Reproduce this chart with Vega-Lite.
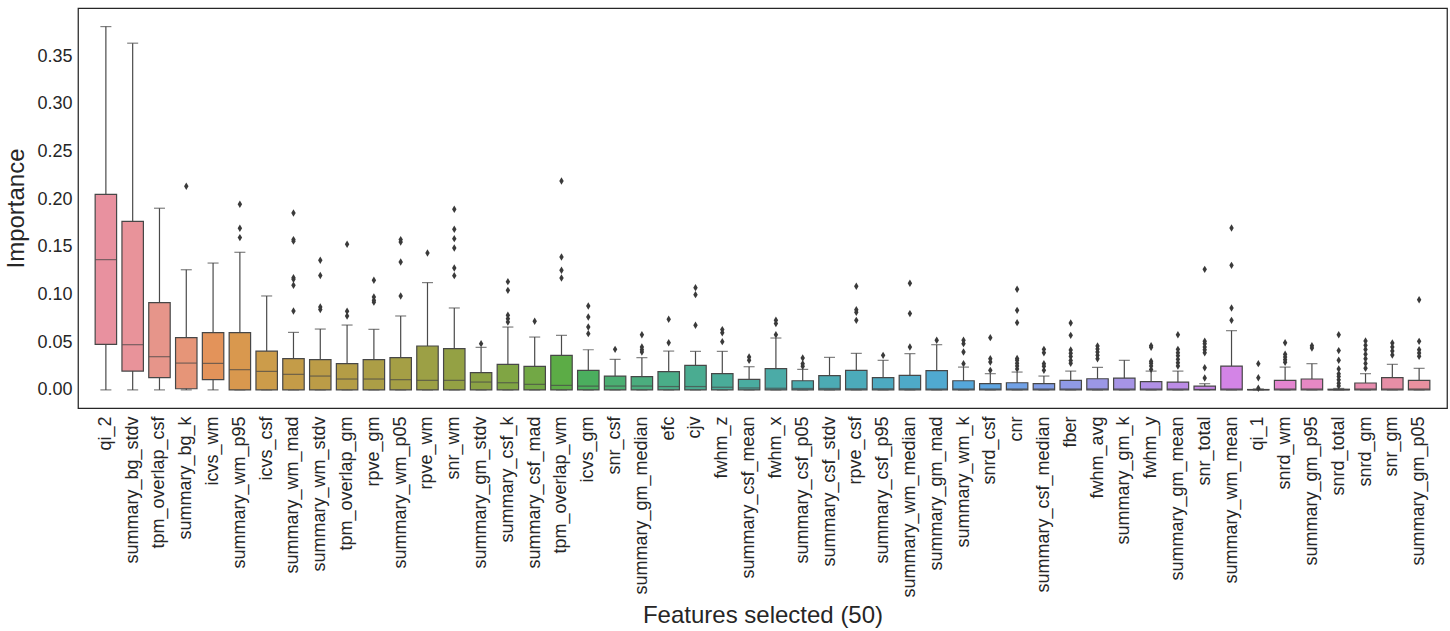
{
  "$schema": "https://vega.github.io/schema/vega-lite/v6.json",
  "width": 1369,
  "height": 400,
  "autosize": {"type": "none"},
  "padding": {"left": 78, "top": 8, "right": 3, "bottom": 223},
  "background": "white",
  "config": {
    "font": "Liberation Sans",
    "view": {"stroke": "#262626", "strokeWidth": 1.25}
  },
  "datasets": {
    "boxes": [
      {"feature": "qi_2", "lo": 0, "q1": 0.0477, "med": 0.1366, "q3": 0.205, "hi": 0.381},
      {"feature": "summary_bg_stdv", "lo": 0, "q1": 0.0197, "med": 0.0474, "q3": 0.1768, "hi": 0.3636},
      {"feature": "tpm_overlap_csf", "lo": 0, "q1": 0.0128, "med": 0.0348, "q3": 0.0915, "hi": 0.1905},
      {"feature": "summary_bg_k", "lo": 0, "q1": 0.0012, "med": 0.0281, "q3": 0.0548, "hi": 0.126},
      {"feature": "icvs_wm", "lo": 0, "q1": 0.0107, "med": 0.0278, "q3": 0.06, "hi": 0.133},
      {"feature": "summary_wm_p95", "lo": 0, "q1": 0, "med": 0.0212, "q3": 0.06, "hi": 0.1443},
      {"feature": "icvs_csf", "lo": 0, "q1": 0, "med": 0.0194, "q3": 0.0407, "hi": 0.0985},
      {"feature": "summary_wm_mad", "lo": 0, "q1": 0, "med": 0.0163, "q3": 0.0327, "hi": 0.0603},
      {"feature": "summary_wm_stdv", "lo": 0, "q1": 0, "med": 0.0145, "q3": 0.0317, "hi": 0.0638},
      {"feature": "tpm_overlap_gm", "lo": 0, "q1": 0, "med": 0.0114, "q3": 0.0275, "hi": 0.068},
      {"feature": "rpve_gm", "lo": 0, "q1": 0, "med": 0.0114, "q3": 0.0317, "hi": 0.0635},
      {"feature": "summary_wm_p05", "lo": 0, "q1": 0, "med": 0.0107, "q3": 0.0338, "hi": 0.0775},
      {"feature": "rpve_wm", "lo": 0, "q1": 0, "med": 0.01, "q3": 0.046, "hi": 0.1125},
      {"feature": "snr_wm", "lo": 0, "q1": 0, "med": 0.01, "q3": 0.0432, "hi": 0.0859},
      {"feature": "summary_gm_stdv", "lo": 0, "q1": 0, "med": 0.0082, "q3": 0.018, "hi": 0.0446},
      {"feature": "summary_csf_k", "lo": 0, "q1": 0, "med": 0.0075, "q3": 0.0268, "hi": 0.0659},
      {"feature": "summary_csf_mad", "lo": 0, "q1": 0, "med": 0.0058, "q3": 0.0247, "hi": 0.0554},
      {"feature": "tpm_overlap_wm", "lo": 0, "q1": 0, "med": 0.0047, "q3": 0.0362, "hi": 0.0572},
      {"feature": "icvs_gm", "lo": 0, "q1": 0, "med": 0.004, "q3": 0.0205, "hi": 0.0421},
      {"feature": "snr_csf", "lo": 0, "q1": 0, "med": 0.004, "q3": 0.0145, "hi": 0.032},
      {"feature": "summary_gm_median", "lo": 0, "q1": 0, "med": 0.004, "q3": 0.0138, "hi": 0.0338},
      {"feature": "efc", "lo": 0, "q1": 0, "med": 0.0035, "q3": 0.0191, "hi": 0.0407},
      {"feature": "cjv", "lo": 0, "q1": 0, "med": 0.0035, "q3": 0.0257, "hi": 0.0404},
      {"feature": "fwhm_z", "lo": 0, "q1": 0, "med": 0.0028, "q3": 0.017, "hi": 0.0404},
      {"feature": "summary_csf_mean", "lo": 0, "q1": 0, "med": 0.002, "q3": 0.011, "hi": 0.0243},
      {"feature": "fwhm_x", "lo": 0, "q1": 0, "med": 0.0017, "q3": 0.0222, "hi": 0.0544},
      {"feature": "summary_csf_p05", "lo": 0, "q1": 0, "med": 0.0015, "q3": 0.0096, "hi": 0.0215},
      {"feature": "summary_csf_stdv", "lo": 0, "q1": 0, "med": 0.0015, "q3": 0.0149, "hi": 0.0341},
      {"feature": "rpve_csf", "lo": 0, "q1": 0, "med": 0.0012, "q3": 0.0205, "hi": 0.0383},
      {"feature": "summary_csf_p95", "lo": 0, "q1": 0, "med": 0.0012, "q3": 0.0128, "hi": 0.031},
      {"feature": "summary_wm_median", "lo": 0, "q1": 0, "med": 0.0012, "q3": 0.0152, "hi": 0.038},
      {"feature": "summary_gm_mad", "lo": 0, "q1": 0, "med": 0.001, "q3": 0.0201, "hi": 0.0474},
      {"feature": "summary_wm_k", "lo": 0, "q1": 0, "med": 0.001, "q3": 0.0096, "hi": 0.0239},
      {"feature": "snrd_csf", "lo": 0, "q1": 0, "med": 0.001, "q3": 0.0065, "hi": 0.017},
      {"feature": "cnr", "lo": 0, "q1": 0, "med": 0.001, "q3": 0.0075, "hi": 0.0187},
      {"feature": "summary_csf_median", "lo": 0, "q1": 0, "med": 0.001, "q3": 0.0065, "hi": 0.0145},
      {"feature": "fber", "lo": 0, "q1": 0, "med": 0.001, "q3": 0.01, "hi": 0.0197},
      {"feature": "fwhm_avg", "lo": 0, "q1": 0, "med": 0.001, "q3": 0.0117, "hi": 0.0236},
      {"feature": "summary_gm_k", "lo": 0, "q1": 0, "med": 0.001, "q3": 0.0124, "hi": 0.031},
      {"feature": "fwhm_y", "lo": 0, "q1": 0, "med": 0.001, "q3": 0.0086, "hi": 0.0197},
      {"feature": "summary_gm_mean", "lo": 0, "q1": 0, "med": 0.001, "q3": 0.0082, "hi": 0.0197},
      {"feature": "snr_total", "lo": 0, "q1": 0, "med": 0.0005, "q3": 0.004, "hi": 0.0065},
      {"feature": "summary_wm_mean", "lo": 0, "q1": 0, "med": 0.001, "q3": 0.025, "hi": 0.0621},
      {"feature": "qi_1", "lo": 0, "q1": 0, "med": 0, "q3": 0.0004, "hi": 0.001},
      {"feature": "snrd_wm", "lo": 0, "q1": 0, "med": 0.001, "q3": 0.01, "hi": 0.0239},
      {"feature": "summary_gm_p95", "lo": 0, "q1": 0, "med": 0.001, "q3": 0.0114, "hi": 0.0275},
      {"feature": "snrd_total", "lo": 0, "q1": 0, "med": 0, "q3": 0.0007, "hi": 0.0015},
      {"feature": "snrd_gm", "lo": 0, "q1": 0, "med": 0.001, "q3": 0.0072, "hi": 0.017},
      {"feature": "snr_gm", "lo": 0, "q1": 0, "med": 0.001, "q3": 0.0128, "hi": 0.0268},
      {"feature": "summary_gm_p05", "lo": 0, "q1": 0, "med": 0.001, "q3": 0.01, "hi": 0.0226}
    ],
    "outliers": [
      {"feature": "summary_bg_k", "value": 0.2135},
      {"feature": "summary_wm_p95", "value": 0.1946},
      {"feature": "summary_wm_p95", "value": 0.1695},
      {"feature": "summary_wm_p95", "value": 0.1597},
      {"feature": "summary_wm_mad", "value": 0.1855},
      {"feature": "summary_wm_mad", "value": 0.1576},
      {"feature": "summary_wm_mad", "value": 0.156},
      {"feature": "summary_wm_mad", "value": 0.1177},
      {"feature": "summary_wm_mad", "value": 0.116},
      {"feature": "summary_wm_mad", "value": 0.1097},
      {"feature": "summary_wm_mad", "value": 0.0827},
      {"feature": "summary_wm_stdv", "value": 0.1359},
      {"feature": "summary_wm_stdv", "value": 0.12},
      {"feature": "summary_wm_stdv", "value": 0.0869},
      {"feature": "summary_wm_stdv", "value": 0.0842},
      {"feature": "tpm_overlap_gm", "value": 0.1527},
      {"feature": "tpm_overlap_gm", "value": 0.0824},
      {"feature": "tpm_overlap_gm", "value": 0.0775},
      {"feature": "rpve_gm", "value": 0.1149},
      {"feature": "rpve_gm", "value": 0.0974},
      {"feature": "rpve_gm", "value": 0.0939},
      {"feature": "rpve_gm", "value": 0.092},
      {"feature": "summary_wm_p05", "value": 0.1576},
      {"feature": "summary_wm_p05", "value": 0.155},
      {"feature": "summary_wm_p05", "value": 0.1341},
      {"feature": "summary_wm_p05", "value": 0.0985},
      {"feature": "rpve_wm", "value": 0.1436},
      {"feature": "snr_wm", "value": 0.1894},
      {"feature": "snr_wm", "value": 0.1684},
      {"feature": "snr_wm", "value": 0.1586},
      {"feature": "snr_wm", "value": 0.1488},
      {"feature": "snr_wm", "value": 0.1278},
      {"feature": "snr_wm", "value": 0.1198},
      {"feature": "summary_gm_stdv", "value": 0.0485},
      {"feature": "summary_csf_k", "value": 0.1135},
      {"feature": "summary_csf_k", "value": 0.1044},
      {"feature": "summary_csf_k", "value": 0.0782},
      {"feature": "summary_csf_k", "value": 0.0747},
      {"feature": "summary_csf_k", "value": 0.0712},
      {"feature": "summary_csf_mad", "value": 0.0719},
      {"feature": "tpm_overlap_wm", "value": 0.219},
      {"feature": "tpm_overlap_wm", "value": 0.1394},
      {"feature": "tpm_overlap_wm", "value": 0.1254},
      {"feature": "tpm_overlap_wm", "value": 0.1174},
      {"feature": "icvs_gm", "value": 0.088},
      {"feature": "icvs_gm", "value": 0.0764},
      {"feature": "icvs_gm", "value": 0.0659},
      {"feature": "icvs_gm", "value": 0.059},
      {"feature": "snr_csf", "value": 0.0425},
      {"feature": "summary_gm_median", "value": 0.0579},
      {"feature": "summary_gm_median", "value": 0.0449},
      {"feature": "summary_gm_median", "value": 0.0421},
      {"feature": "summary_gm_median", "value": 0.0397},
      {"feature": "efc", "value": 0.074},
      {"feature": "efc", "value": 0.0495},
      {"feature": "cjv", "value": 0.1072},
      {"feature": "cjv", "value": 0.0999},
      {"feature": "cjv", "value": 0.0677},
      {"feature": "fwhm_z", "value": 0.0632},
      {"feature": "fwhm_z", "value": 0.06},
      {"feature": "fwhm_z", "value": 0.0506},
      {"feature": "summary_csf_mean", "value": 0.0344},
      {"feature": "summary_csf_mean", "value": 0.031},
      {"feature": "fwhm_x", "value": 0.073},
      {"feature": "fwhm_x", "value": 0.0695},
      {"feature": "fwhm_x", "value": 0.0579},
      {"feature": "summary_csf_p05", "value": 0.0334},
      {"feature": "summary_csf_p05", "value": 0.0275},
      {"feature": "summary_csf_p05", "value": 0.0247},
      {"feature": "rpve_csf", "value": 0.1086},
      {"feature": "rpve_csf", "value": 0.0841},
      {"feature": "rpve_csf", "value": 0.0813},
      {"feature": "rpve_csf", "value": 0.0729},
      {"feature": "summary_csf_p95", "value": 0.0362},
      {"feature": "summary_wm_median", "value": 0.1118},
      {"feature": "summary_wm_median", "value": 0.08},
      {"feature": "summary_wm_median", "value": 0.0449},
      {"feature": "summary_gm_mad", "value": 0.052},
      {"feature": "summary_wm_k", "value": 0.052},
      {"feature": "summary_wm_k", "value": 0.0485},
      {"feature": "summary_wm_k", "value": 0.0397},
      {"feature": "summary_wm_k", "value": 0.0275},
      {"feature": "snrd_csf", "value": 0.0548},
      {"feature": "snrd_csf", "value": 0.0327},
      {"feature": "snrd_csf", "value": 0.0292},
      {"feature": "snrd_csf", "value": 0.0205},
      {"feature": "cnr", "value": 0.1055},
      {"feature": "cnr", "value": 0.0834},
      {"feature": "cnr", "value": 0.0705},
      {"feature": "cnr", "value": 0.033},
      {"feature": "cnr", "value": 0.031},
      {"feature": "cnr", "value": 0.028},
      {"feature": "cnr", "value": 0.025},
      {"feature": "cnr", "value": 0.022},
      {"feature": "summary_csf_median", "value": 0.0425},
      {"feature": "summary_csf_median", "value": 0.039},
      {"feature": "summary_csf_median", "value": 0.0275},
      {"feature": "summary_csf_median", "value": 0.0247},
      {"feature": "summary_csf_median", "value": 0.0205},
      {"feature": "fber", "value": 0.0701},
      {"feature": "fber", "value": 0.0572},
      {"feature": "fber", "value": 0.0419},
      {"feature": "fber", "value": 0.0384},
      {"feature": "fber", "value": 0.035},
      {"feature": "fber", "value": 0.0308},
      {"feature": "fber", "value": 0.028},
      {"feature": "fwhm_avg", "value": 0.0461},
      {"feature": "fwhm_avg", "value": 0.043},
      {"feature": "fwhm_avg", "value": 0.0397},
      {"feature": "fwhm_avg", "value": 0.0362},
      {"feature": "fwhm_avg", "value": 0.0327},
      {"feature": "fwhm_y", "value": 0.0463},
      {"feature": "fwhm_y", "value": 0.0446},
      {"feature": "fwhm_y", "value": 0.03},
      {"feature": "fwhm_y", "value": 0.028},
      {"feature": "fwhm_y", "value": 0.025},
      {"feature": "fwhm_y", "value": 0.0215},
      {"feature": "summary_gm_mean", "value": 0.0579},
      {"feature": "summary_gm_mean", "value": 0.0425},
      {"feature": "summary_gm_mean", "value": 0.039},
      {"feature": "summary_gm_mean", "value": 0.0357},
      {"feature": "summary_gm_mean", "value": 0.032},
      {"feature": "summary_gm_mean", "value": 0.0285},
      {"feature": "summary_gm_mean", "value": 0.025},
      {"feature": "snr_total", "value": 0.1264},
      {"feature": "snr_total", "value": 0.051},
      {"feature": "snr_total", "value": 0.0485},
      {"feature": "snr_total", "value": 0.045},
      {"feature": "snr_total", "value": 0.042},
      {"feature": "snr_total", "value": 0.039},
      {"feature": "snr_total", "value": 0.0232},
      {"feature": "snr_total", "value": 0.0124},
      {"feature": "summary_wm_mean", "value": 0.1698},
      {"feature": "summary_wm_mean", "value": 0.1306},
      {"feature": "summary_wm_mean", "value": 0.0859},
      {"feature": "summary_wm_mean", "value": 0.0729},
      {"feature": "qi_1", "value": 0.0275},
      {"feature": "qi_1", "value": 0.0128},
      {"feature": "qi_1", "value": 0.0017},
      {"feature": "snrd_wm", "value": 0.0495},
      {"feature": "snrd_wm", "value": 0.0373},
      {"feature": "snrd_wm", "value": 0.0345},
      {"feature": "snrd_wm", "value": 0.0317},
      {"feature": "snrd_wm", "value": 0.029},
      {"feature": "summary_gm_p95", "value": 0.0463},
      {"feature": "summary_gm_p95", "value": 0.044},
      {"feature": "snrd_total", "value": 0.0579},
      {"feature": "snrd_total", "value": 0.0412},
      {"feature": "snrd_total", "value": 0.031},
      {"feature": "snrd_total", "value": 0.022},
      {"feature": "snrd_total", "value": 0.0168},
      {"feature": "snrd_total", "value": 0.014},
      {"feature": "snrd_total", "value": 0.0105},
      {"feature": "snrd_total", "value": 0.007},
      {"feature": "snrd_total", "value": 0.0042},
      {"feature": "snrd_gm", "value": 0.0513},
      {"feature": "snrd_gm", "value": 0.0467},
      {"feature": "snrd_gm", "value": 0.0423},
      {"feature": "snrd_gm", "value": 0.0375},
      {"feature": "snrd_gm", "value": 0.0326},
      {"feature": "snrd_gm", "value": 0.0278},
      {"feature": "snrd_gm", "value": 0.0227},
      {"feature": "snr_gm", "value": 0.0491},
      {"feature": "snr_gm", "value": 0.045},
      {"feature": "snr_gm", "value": 0.0408},
      {"feature": "snr_gm", "value": 0.0366},
      {"feature": "summary_gm_p05", "value": 0.0946},
      {"feature": "summary_gm_p05", "value": 0.0509},
      {"feature": "summary_gm_p05", "value": 0.0421},
      {"feature": "summary_gm_p05", "value": 0.0387},
      {"feature": "summary_gm_p05", "value": 0.0352}
    ]
  },
  "encoding": {
    "x": {
      "field": "feature",
      "type": "nominal",
      "scale": {
        "domain": ["qi_2", "summary_bg_stdv", "tpm_overlap_csf", "summary_bg_k", "icvs_wm", "summary_wm_p95", "icvs_csf", "summary_wm_mad", "summary_wm_stdv", "tpm_overlap_gm", "rpve_gm", "summary_wm_p05", "rpve_wm", "snr_wm", "summary_gm_stdv", "summary_csf_k", "summary_csf_mad", "tpm_overlap_wm", "icvs_gm", "snr_csf", "summary_gm_median", "efc", "cjv", "fwhm_z", "summary_csf_mean", "fwhm_x", "summary_csf_p05", "summary_csf_stdv", "rpve_csf", "summary_csf_p95", "summary_wm_median", "summary_gm_mad", "summary_wm_k", "snrd_csf", "cnr", "summary_csf_median", "fber", "fwhm_avg", "summary_gm_k", "fwhm_y", "summary_gm_mean", "snr_total", "summary_wm_mean", "qi_1", "snrd_wm", "summary_gm_p95", "snrd_total", "snrd_gm", "snr_gm", "summary_gm_p05"],
        "paddingInner": 0.2,
        "paddingOuter": 0.64
      },
      "axis": {
        "title": "Features selected (50)",
        "titleFontSize": 24,
        "titleFontWeight": "normal",
        "titleColor": "#262626",
        "titlePadding": 6,
        "labelAngle": -90,
        "labelFontSize": 18,
        "labelColor": "#262626",
        "labelPadding": 8,
        "labelLimit": 300,
        "ticks": false,
        "domain": false,
        "grid": false
      }
    }
  },
  "layer": [
    {
      "data": {"name": "boxes"},
      "mark": {"type": "rule", "color": "#4a4a4a", "strokeWidth": 1.2},
      "encoding": {
        "y": {
          "field": "lo",
          "type": "quantitative",
          "scale": {"domain": [-0.019, 0.4005], "nice": false, "zero": false},
          "axis": {
            "title": "Importance",
            "titleFontSize": 24,
            "titleFontWeight": "normal",
            "titleColor": "#262626",
            "titlePadding": 8,
            "values": [0, 0.05, 0.1, 0.15, 0.2, 0.25, 0.3, 0.35],
            "format": ".2f",
            "labelFontSize": 18,
            "labelColor": "#262626",
            "labelPadding": 6,
            "ticks": false,
            "domain": false,
            "grid": false
          }
        },
        "y2": {"field": "hi"}
      }
    },
    {
      "data": {"name": "boxes"},
      "mark": {"type": "tick", "color": "#4a4a4a", "size": 11, "thickness": 1.2},
      "encoding": {"y": {"field": "hi", "type": "quantitative"}}
    },
    {
      "data": {"name": "boxes"},
      "mark": {"type": "tick", "color": "#4a4a4a", "size": 11, "thickness": 1.2},
      "encoding": {"y": {"field": "lo", "type": "quantitative"}}
    },
    {
      "data": {"name": "boxes"},
      "mark": {"type": "bar", "stroke": "#474747", "strokeWidth": 1.2},
      "encoding": {
        "y": {"field": "q1", "type": "quantitative"},
        "y2": {"field": "q3"},
        "color": {
          "field": "feature",
          "type": "nominal",
          "legend": null,
          "scale": {
            "domain": ["qi_2", "summary_bg_stdv", "tpm_overlap_csf", "summary_bg_k", "icvs_wm", "summary_wm_p95", "icvs_csf", "summary_wm_mad", "summary_wm_stdv", "tpm_overlap_gm", "rpve_gm", "summary_wm_p05", "rpve_wm", "snr_wm", "summary_gm_stdv", "summary_csf_k", "summary_csf_mad", "tpm_overlap_wm", "icvs_gm", "snr_csf", "summary_gm_median", "efc", "cjv", "fwhm_z", "summary_csf_mean", "fwhm_x", "summary_csf_p05", "summary_csf_stdv", "rpve_csf", "summary_csf_p95", "summary_wm_median", "summary_gm_mad", "summary_wm_k", "snrd_csf", "cnr", "summary_csf_median", "fber", "fwhm_avg", "summary_gm_k", "fwhm_y", "summary_gm_mean", "snr_total", "summary_wm_mean", "qi_1", "snrd_wm", "summary_gm_p95", "snrd_total", "snrd_gm", "snr_gm", "summary_gm_p05"],
            "range": ["#e8919f", "#e8939a", "#e6958a", "#e69578", "#e3935a", "#d9984e", "#cc9c4a", "#c49c48", "#bc9c47", "#b49d46", "#ac9e46", "#a59f45", "#9ca045", "#94a144", "#8ba244", "#80a544", "#72a845", "#5cac46", "#4bae5e", "#4bae72", "#4bad7e", "#4aad88", "#4aac91", "#4aac99", "#4aaca0", "#4baba7", "#4babae", "#4cabb4", "#4cabba", "#4daac1", "#4eaac8", "#50a9d0", "#55a7da", "#5ea5e2", "#71a1e6", "#819de6", "#8f9ae6", "#9b97e6", "#a694e6", "#b190e6", "#bc8ce6", "#c788e6", "#d384e6", "#df83da", "#e485d0", "#e688c4", "#e68ab8", "#e78cae", "#e78ea6", "#e8909f"]
          }
        }
      }
    },
    {
      "data": {"name": "boxes"},
      "mark": {"type": "tick", "color": "#474747", "size": 21, "thickness": 1.2},
      "encoding": {"y": {"field": "med", "type": "quantitative"}}
    },
    {
      "data": {"name": "outliers"},
      "mark": {"type": "point", "shape": "M0,-1L0.6,0L0,1L-0.6,0Z", "filled": true, "color": "#3a3a3a", "opacity": 1, "size": 55},
      "encoding": {"y": {"field": "value", "type": "quantitative"}}
    }
  ]
}
